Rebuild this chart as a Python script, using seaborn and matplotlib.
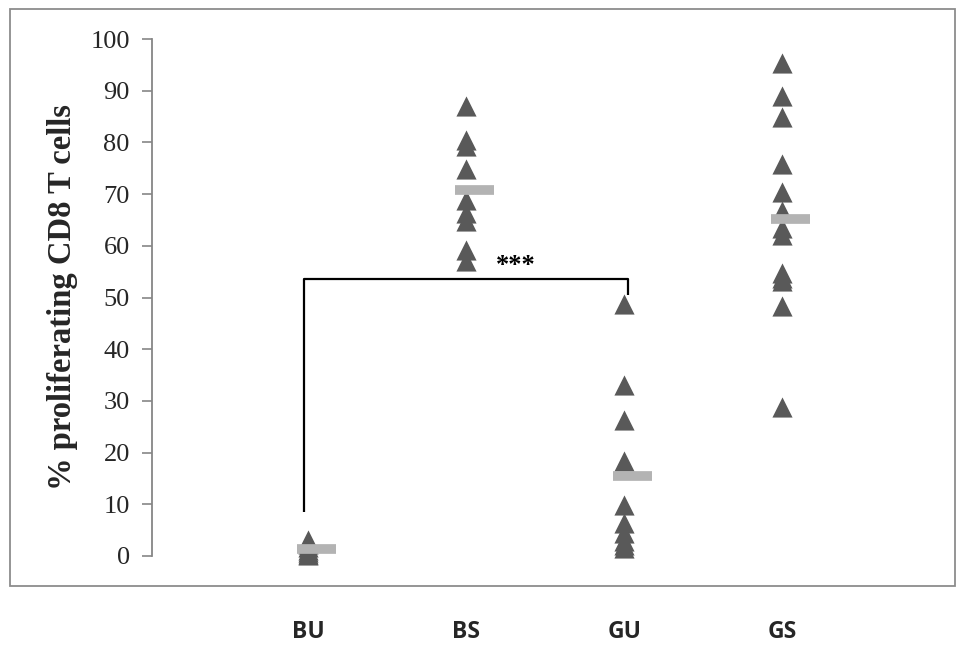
import matplotlib
matplotlib.use("Agg")
import matplotlib.pyplot as plt
from matplotlib.patches import Rectangle
import seaborn as sns
import pandas as pd

# Groups and per-sample percentages of proliferating CD8 T cells
groups = ["BU", "BS", "GU", "GS"]
bu_values = [3.1, 2.4, 1.8, 1.2, 0.7, 0.3, 0.1]
bs_values = [87.0, 80.4, 79.4, 74.8, 68.8, 66.4, 64.8, 59.1, 57.1]
gu_values = [48.7, 33.1, 26.3, 18.4, 9.9, 6.4, 4.5, 2.9, 2.2, 1.6]
gs_values = [95.3, 89.0, 84.9, 75.8, 70.4, 66.8, 63.5, 62.1,
             54.8, 53.8, 53.2, 48.4, 28.8]
y_ticks = [0, 10, 20, 30, 40, 50, 60, 70, 80, 90, 100]
significance = "***"

df = pd.DataFrame({
    "group": (["BU"] * len(bu_values) + ["BS"] * len(bs_values)
              + ["GU"] * len(gu_values) + ["GS"] * len(gs_values)),
    "pct": bu_values + bs_values + gu_values + gs_values,
})
group_means = df.groupby("group", sort=False)["pct"].mean().reindex(groups)

sns.set_theme(style="white")
plt.rcParams["font.family"] = ["Liberation Serif", "DejaVu Serif"]

fig = plt.figure(figsize=(9.6, 6.46), dpi=100)
ax = fig.add_axes([152 / 960, 90 / 646, 790 / 960, 517 / 646])

# outer chart frame
fig.patches.append(Rectangle((10 / 960, 60 / 646), 945 / 960, 577 / 646,
                             transform=fig.transFigure, fill=False,
                             edgecolor="#8c8c8c", linewidth=1.3))

sns.stripplot(data=df, x="group", y="pct", order=groups, jitter=False,
              marker="^", size=14.5, color="#595959", linewidth=0,
              ax=ax, clip_on=False, zorder=3)

# group mean dashes
for i, g in enumerate(groups):
    ax.hlines(group_means[g], i - 0.07, i + 0.177, colors="#b3b3b3",
              linewidth=7, zorder=4, capstyle="butt")

# significance bracket between BU and GU
lx, rx = -0.03, 2.02
ax.plot([lx, lx, rx, rx], [8.5, 53.6, 53.6, 50.5], color="black",
        linewidth=1.6, zorder=2, solid_capstyle="butt")
ax.text(1.31, 54.0, significance, ha="center", va="bottom",
        fontsize=19, fontweight="bold", color="black")

ax.set_xlim(-0.99, 4.01)
ax.set_ylim(0, 100)
ax.set_yticks(y_ticks)
ax.set_yticklabels([str(t) for t in y_ticks], fontsize=19,
                   family=["Liberation Serif"])
ax.set_xlabel("")
ax.set_ylabel("% proliferating CD8 T cells", fontsize=23.5, fontweight="bold",
              labelpad=9)

for lab in ax.get_xticklabels():
    lab.set_fontfamily(["Open Sans", "DejaVu Sans"])
    lab.set_fontweight("bold")
    lab.set_fontsize(16.5)
ax.tick_params(axis="x", length=0, pad=46)
ax.tick_params(axis="y", length=7, width=1.2, color="#868686",
               direction="out", pad=9, left=True)

for side in ["top", "right", "bottom"]:
    ax.spines[side].set_visible(False)
ax.spines["left"].set_color("#868686")
ax.spines["left"].set_linewidth(1.3)

fig.savefig("out.png", dpi=100)
